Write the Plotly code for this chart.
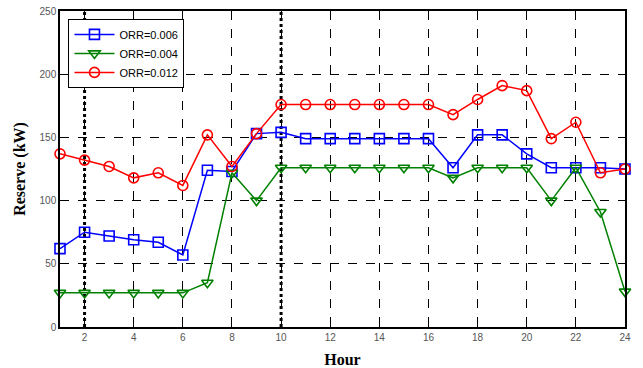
import plotly.graph_objects as go

hours = list(range(1, 25))
orr_006 = [62, 75, 72, 69, 67, 57, 124, 123, 153, 154, 149, 149, 149, 149, 149, 149,
           126, 152, 152, 137, 126, 126, 126, 125]
orr_004 = [27, 27, 27, 27, 27, 27, 35, 122, 100, 126, 126, 126, 126, 126, 126, 126,
           118, 126, 126, 126, 100, 126, 91, 28]
orr_012 = [137, 132, 127, 118, 122, 112, 152, 127, 153, 176, 176, 176, 176, 176, 176, 176,
           168, 180, 191, 187, 149, 162, 122, 125]
x_ticks = list(range(2, 25, 2))
y_ticks = [0, 50, 100, 150, 200, 250]
highlight_hours = [2, 10]

fig = go.Figure()
series = [
    ("ORR=0.006", orr_006, "#0000ff", "square-open"),
    ("ORR=0.004", orr_004, "#008000", "triangle-down-open"),
    ("ORR=0.012", orr_012, "#ff0000", "circle-open"),
]
for name, vals, col, sym in series:
    fig.add_trace(go.Scatter(
        x=hours, y=vals, name=name, mode="lines+markers",
        line=dict(color=col, width=1.5),
        marker=dict(symbol=sym, size=10, color=col, line=dict(width=1.6, color=col)),
        cliponaxis=False,
    ))

for h in highlight_hours:
    fig.add_shape(type="line", xref="x", yref="paper", x0=h, x1=h, y0=0, y1=1,
                  line=dict(color="black", width=3, dash="dot"), layer="below")

fig.update_layout(
    width=643, height=368,
    margin=dict(l=60, r=18, t=11, b=41),
    paper_bgcolor="white", plot_bgcolor="white",
    showlegend=True,
    legend=dict(x=0.015, y=0.975, xanchor="left", yanchor="top",
                bgcolor="white", bordercolor="black", borderwidth=1,
                font=dict(family="Arial", size=11, color="black"),
                tracegroupgap=0, itemwidth=40),
    xaxis=dict(range=[1, 24], tickmode="array", tickvals=x_ticks, automargin=False,
               showgrid=True, gridcolor="black", griddash="dash", gridwidth=1,
               showline=True, linecolor="black", linewidth=1.5, mirror=True,
               ticks="inside", ticklen=4, tickcolor="black",
               tickfont=dict(family="Arial", size=10, color="#555555"),
               zeroline=False,
               title=dict(text="<b>Hour</b>", font=dict(family="Liberation Serif", size=16, color="black"),
                          standoff=12)),
    yaxis=dict(range=[0, 250], tickmode="array", tickvals=y_ticks, automargin=False,
               showgrid=True, gridcolor="black", griddash="dash", gridwidth=1,
               showline=True, linecolor="black", linewidth=1.5, mirror=True,
               ticks="inside", ticklen=4, tickcolor="black",
               tickfont=dict(family="Arial", size=10, color="#555555"),
               zeroline=False,
               title=dict(text="<b>Reserve (kW)</b>", font=dict(family="Liberation Serif", size=16, color="black"),
                          standoff=10)),
)

fig.write_html("out.html")
